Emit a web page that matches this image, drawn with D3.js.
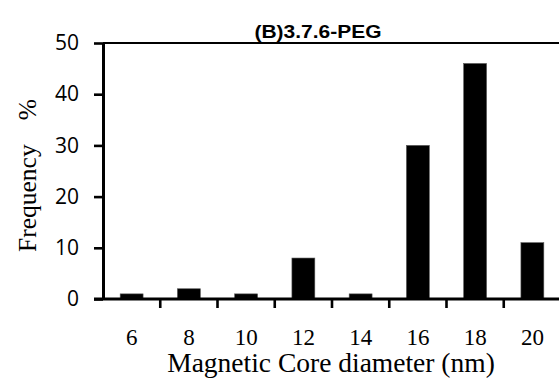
<!DOCTYPE html>
<html>
<head>
<meta charset="utf-8">
<script src="https://cdn.jsdelivr.net/npm/d3@7"></script>
<style>
  html, body { margin: 0; padding: 0; background: #fff; }
  svg { display: block; }
</style>
</head>
<body>
<svg id="chart" width="559" height="382"></svg>
<script>
// Size distribution of magnetic cores
const diameters = ["6", "8", "10", "12", "14", "16", "18", "20"];
const frequency = [1, 2, 1, 8, 1, 30, 46, 11];
const yTicks = [0, 10, 20, 30, 40, 50];
const chartTitle = "(B)3.7.6-PEG";
const xTitle = "Magnetic Core diameter (nm)";
const yTitle = "Frequency";
const yUnit = "%";

const svg = d3.select("#chart");
const margin = { left: 103, top: 43, right: -2, bottom: 83 };
const W = 559, H = 382;
const plotW = W - margin.left - margin.right;
const plotH = H - margin.top - margin.bottom;

const x = d3.scaleBand()
  .domain(diameters)
  .range([margin.left, margin.left + plotW])
  .paddingInner(0.6)
  .paddingOuter(0.3);

const y = d3.scaleLinear()
  .domain([0, 50])
  .range([margin.top + plotH, margin.top]);

const serif = "'Liberation Serif', 'Times New Roman', serif";
const sans = "'Open Sans', 'DejaVu Sans', sans-serif";

// Bars
svg.append("g")
  .selectAll("rect")
  .data(frequency)
  .join("rect")
  .attr("x", (d, i) => x(diameters[i]))
  .attr("y", d => y(d))
  .attr("width", x.bandwidth())
  .attr("height", d => y(0) - y(d))
  .attr("fill", "#000")
  .attr("stroke", "#555")
  .attr("stroke-width", 0.6);

// Top frame line
svg.append("line")
  .attr("x1", margin.left).attr("x2", margin.left + plotW)
  .attr("y1", y(50)).attr("y2", y(50))
  .attr("stroke", "#000").attr("stroke-width", 2.2);

// Y axis
const yAxis = svg.append("g")
  .attr("transform", `translate(${margin.left},0)`)
  .call(d3.axisLeft(y).tickValues(yTicks).tickSize(9).tickPadding(15).tickSizeOuter(0));
yAxis.select(".domain").attr("stroke-width", 3);
yAxis.selectAll(".tick line").attr("stroke-width", 2.6);
yAxis.selectAll(".tick text")
  .attr("font-family", sans)
  .attr("font-size", 21)
  .attr("fill", "#000");

// X axis: labels centred on bars, ticks on category boundaries
const xAxis = svg.append("g")
  .attr("transform", `translate(0,${y(0)})`)
  .call(d3.axisBottom(x).tickSize(0).tickPadding(30).tickSizeOuter(0));
xAxis.select(".domain").attr("stroke-width", 3)
  .attr("d", `M${margin.left - 9},0H${margin.left + plotW}`);
xAxis.selectAll(".tick text")
  .attr("font-family", serif)
  .attr("font-size", 23)
  .attr("fill", "#000");

const step = x.step();
const boundaries = diameters.map(d => x(d) - step * 0.3).concat([x(diameters[diameters.length - 1]) + step * 0.7]);
xAxis.selectAll(".bound")
  .data(boundaries.slice(1))
  .join("line")
  .attr("class", "bound")
  .attr("x1", d => d).attr("x2", d => d)
  .attr("y1", 0).attr("y2", 9)
  .attr("stroke", "#000").attr("stroke-width", 2.6);

// Title
svg.append("text")
  .attr("x", 318).attr("y", 38)
  .attr("text-anchor", "middle")
  .attr("font-family", "'Liberation Sans', Arial, sans-serif")
  .attr("font-weight", "bold")
  .attr("font-size", 18)
  .attr("textLength", 127)
  .attr("lengthAdjust", "spacingAndGlyphs")
  .text(chartTitle);

// Axis titles
svg.append("text")
  .attr("x", 331).attr("y", 372)
  .attr("text-anchor", "middle")
  .attr("font-family", serif)
  .attr("font-size", 27.5)
  .text(xTitle);

const yt = svg.append("text")
  .attr("transform", "translate(36,252) rotate(-90)")
  .attr("text-anchor", "start")
  .attr("font-family", serif)
  .attr("font-size", 25.5);
yt.append("tspan").text(yTitle);
yt.append("tspan").attr("dx", 24).text(yUnit);
</script>
</body>
</html>
